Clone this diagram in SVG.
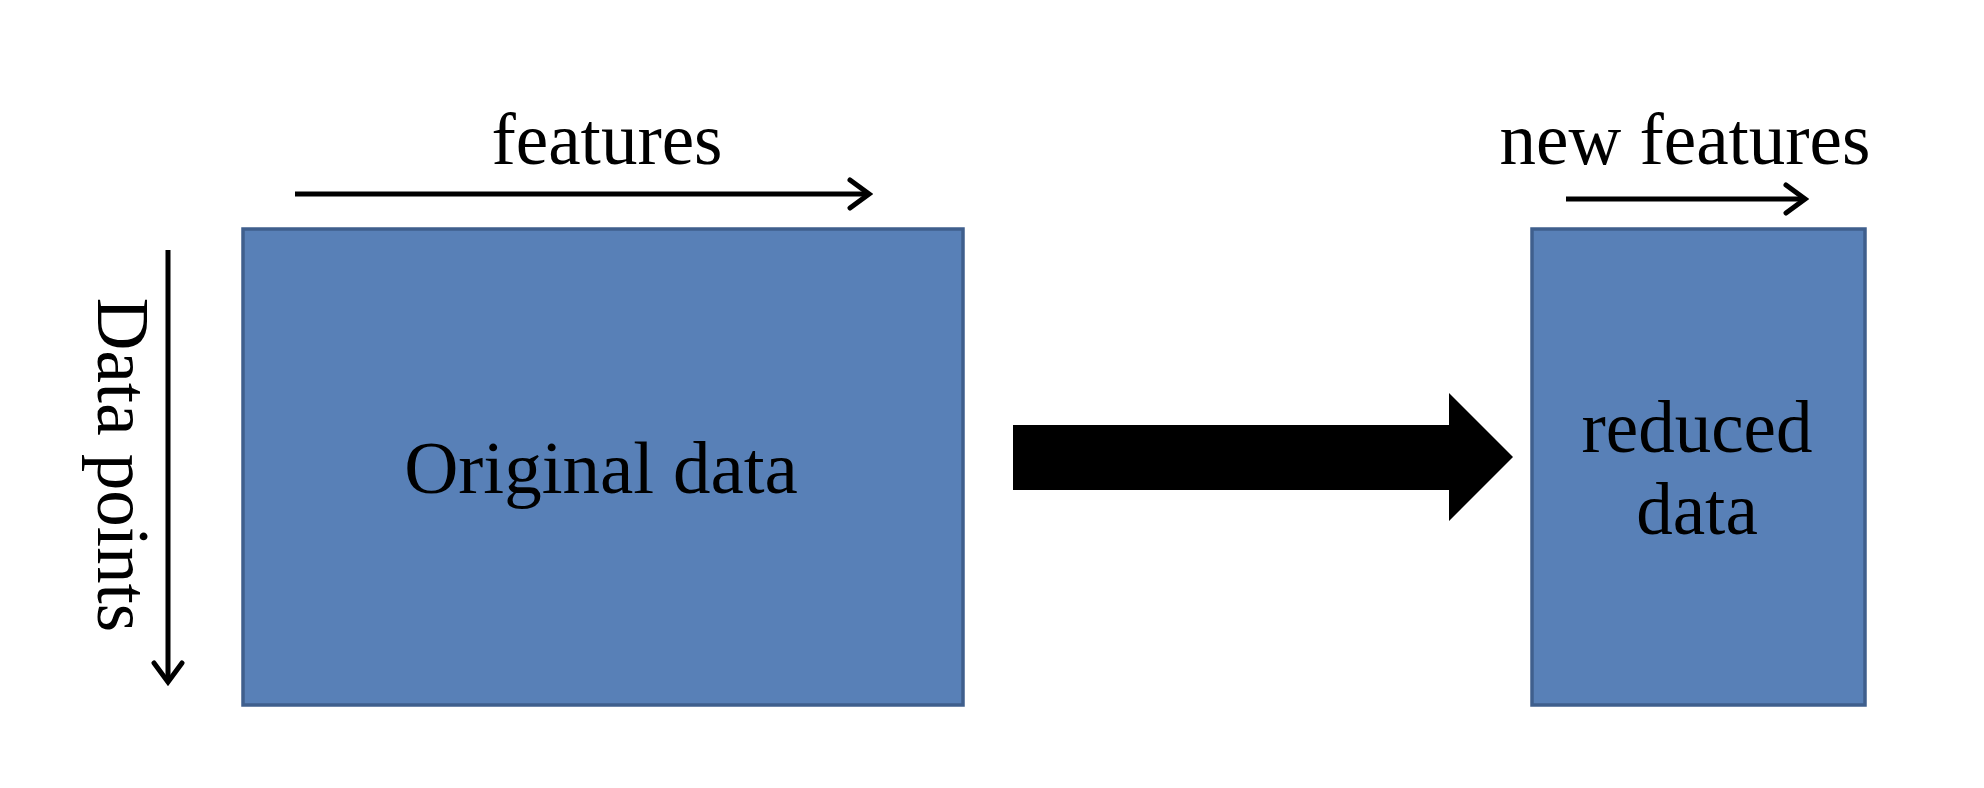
<svg xmlns="http://www.w3.org/2000/svg" width="1984" height="788" viewBox="0 0 1984 788">
  <style>
    .box { fill: #5880b7; stroke: #3f5f8d; stroke-width: 3.5; }
    .lbl { font-family: "Liberation Serif", "Times New Roman", serif; font-size: 73px; fill: #000; }
    .axis { stroke: #000; stroke-width: 5; fill: none; }
  </style>
  <defs>
    <marker id="chev" viewBox="-24 -18 28 36" refX="0" refY="0" markerWidth="28" markerHeight="36" markerUnits="userSpaceOnUse" orient="auto">
      <path d="M -19 -14 L 0 0 L -19 14" fill="none" stroke="#000" stroke-width="5" stroke-linecap="round"/>
    </marker>
  </defs>
  <rect width="1984" height="788" fill="#ffffff"/>

  <g id="connectors">
    <line class="axis" x1="295" y1="194" x2="869" y2="194" marker-end="url(#chev)"/>
    <line class="axis" x1="1566" y1="199" x2="1805" y2="199" marker-end="url(#chev)"/>
    <line class="axis" x1="168" y1="250" x2="168" y2="682" marker-end="url(#chev)"/>
    <path id="big-arrow" d="M 1013 425 L 1449 425 L 1449 393 L 1513 457 L 1449 521 L 1449 490 L 1013 490 Z" fill="#000"/>
  </g>

  <g id="label-features">
    <text class="lbl" x="607" y="164" text-anchor="middle">features</text>
  </g>
  <g id="label-new-features">
    <text class="lbl" x="1685" y="164" text-anchor="middle">new features</text>
  </g>
  <g id="label-data-points">
    <text class="lbl" transform="translate(98,465) rotate(90)" text-anchor="middle">Data points</text>
  </g>

  <g id="node-original">
    <rect class="box" x="243" y="229" width="720" height="476"/>
    <text class="lbl" x="601" y="493" text-anchor="middle" style="font-size:75px">Original data</text>
  </g>

  <g id="node-reduced">
    <rect class="box" x="1532" y="229" width="333" height="476"/>
    <text class="lbl" x="1697" y="452" text-anchor="middle">reduced</text>
    <text class="lbl" x="1697" y="534" text-anchor="middle">data</text>
  </g>
</svg>
